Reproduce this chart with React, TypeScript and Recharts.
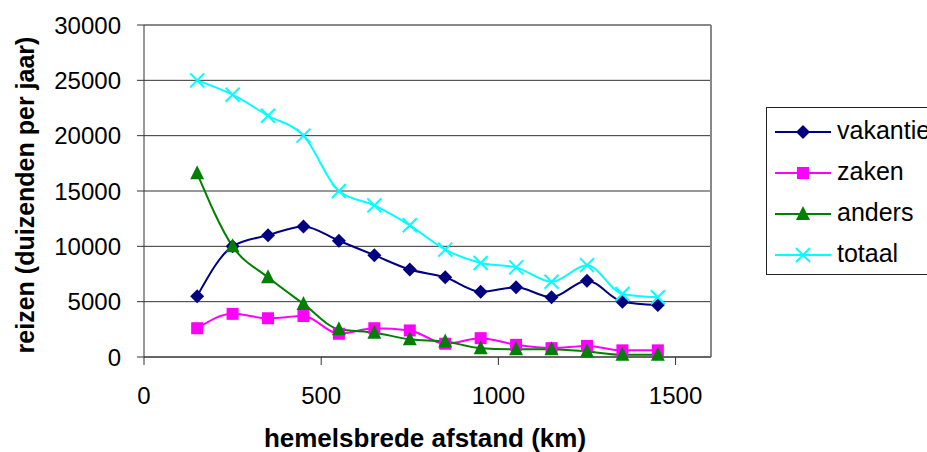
import React from 'react';
import { LineChart, Line, XAxis, YAxis, CartesianGrid, ReferenceLine, Legend } from 'recharts';

const distances = [150, 250, 350, 450, 550, 650, 750, 850, 950, 1050, 1150, 1250, 1350, 1450];
const vakantie = [5500, 10000, 11000, 11800, 10500, 9200, 7900, 7200, 5900, 6300, 5400, 6900, 5000, 4700];
const zaken = [2600, 3900, 3500, 3700, 2100, 2600, 2400, 1200, 1700, 1100, 800, 1000, 600, 600];
const anders = [16600, 10000, 7200, 4800, 2500, 2200, 1600, 1400, 800, 700, 700, 500, 200, 200];
const totaal = [25000, 23700, 21800, 20000, 15000, 13700, 11900, 9700, 8500, 8100, 6800, 8300, 5700, 5400];
const xTicks = [0, 500, 1000, 1500];
const yTicks = [0, 5000, 10000, 15000, 20000, 25000, 30000];
const xTitle = 'hemelsbrede afstand (km)';
const yTitle = 'reizen (duizenden per jaar)';

const series = [
  { key: 'vakantie', values: vakantie, color: '#000080', shape: 'diamond' },
  { key: 'zaken', values: zaken, color: '#FF00FF', shape: 'square' },
  { key: 'anders', values: anders, color: '#008000', shape: 'triangle' },
  { key: 'totaal', values: totaal, color: '#00FFFF', shape: 'x' },
];

const data = distances.map((d, i) => {
  const row: any = { x: d };
  series.forEach((s) => { row[s.key] = s.values[i]; });
  return row;
});

const FONT = '"Liberation Sans", Arial, Helvetica, sans-serif';

function Marker({ shape, cx, cy, color }: { shape: string; cx: number; cy: number; color: string }) {
  if (cx == null || cy == null) return null;
  switch (shape) {
    case 'diamond':
      return <polygon points={`${cx},${cy - 7} ${cx + 7},${cy} ${cx},${cy + 7} ${cx - 7},${cy}`} fill={color} />;
    case 'square':
      return <rect x={cx - 6} y={cy - 6} width={12} height={12} fill={color} />;
    case 'triangle':
      return <polygon points={`${cx},${cy - 8} ${cx + 7},${cy + 6} ${cx - 7},${cy + 6}`} fill={color} />;
    default:
      return (
        <g>
          <line x1={cx - 7} y1={cy - 7} x2={cx + 7} y2={cy + 7} stroke={color} strokeWidth={2} />
          <line x1={cx - 7} y1={cy + 7} x2={cx + 7} y2={cy - 7} stroke={color} strokeWidth={2} />
        </g>
      );
  }
}

const renderLegend = () => (
  <svg width={170} height={170} style={{ display: 'block', overflow: 'visible' }}>
    <rect x={0.5} y={0.5} width={200} height={167} fill="#fff" stroke="#222" strokeWidth={1} />
    {series.map((s, i) => {
      const cy = 25 + i * 41;
      return (
        <g key={s.key}>
          <line x1={9} x2={65} y1={cy} y2={cy} stroke={s.color} strokeWidth={2} />
          <Marker shape={s.shape} cx={37} cy={cy} color={s.color} />
          <text x={71} y={cy + 7} fontSize={25} fontFamily={FONT} fill="#000">{s.key}</text>
        </g>
      );
    })}
  </svg>
);

export default function App() {
  return (
    <div style={{ position: 'absolute', left: 0, top: 0, width: 927, height: 452, overflow: 'hidden', background: '#fff' }}>
      <LineChart width={927} height={452} data={data} margin={{ top: 25, right: 216, bottom: 0, left: 0 }}>
        <CartesianGrid vertical={false} horizontal stroke="#333" strokeWidth={1} />
        <ReferenceLine y={30000} stroke="#888" strokeWidth={2} />
        <ReferenceLine x={1600} stroke="#888" strokeWidth={2} />
        <XAxis
          dataKey="x"
          type="number"
          domain={[0, 1600]}
          ticks={xTicks}
          height={95}
          stroke="#333"
          tickSize={8}
          tickMargin={22}
          tick={{ fontSize: 24, fontFamily: FONT, fill: '#000' }}
          label={() => (
            <text x={425} y={447} textAnchor="middle" fontSize={26} fontWeight="bold" fontFamily={FONT} fill="#000">{xTitle}</text>
          )}
        />
        <YAxis
          type="number"
          domain={[0, 30000]}
          ticks={yTicks}
          width={144}
          stroke="#333"
          tickSize={7}
          tickMargin={16}
          tick={{ fontSize: 24, fontFamily: FONT, fill: '#000' }}
          label={() => (
            <text x={34} y={195} transform="rotate(-90, 34, 195)" textAnchor="middle" fontSize={25} fontWeight="bold" fontFamily={FONT} fill="#000">{yTitle}</text>
          )}
        />
        <Legend
          content={renderLegend}
          layout="vertical"
          align="center"
          verticalAlign="middle"
          wrapperStyle={{ left: 766, top: 107, width: 170, height: 170 }}
        />
        {series.map((s) => (
          <Line
            key={s.key}
            dataKey={s.key}
            name={s.key}
            type="monotone"
            stroke={s.color}
            strokeWidth={2}
            isAnimationActive={false}
            activeDot={false}
            dot={(p: any) => <Marker key={`${s.key}-${p.index}`} shape={s.shape} cx={p.cx} cy={p.cy} color={s.color} />}
          />
        ))}
      </LineChart>
    </div>
  );
}
